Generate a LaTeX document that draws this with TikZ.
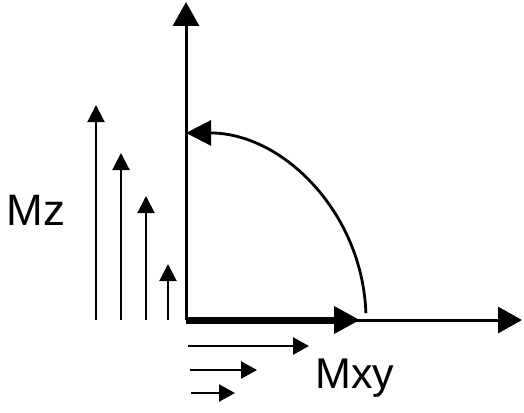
\documentclass[tikz,border=0pt]{standalone}
\usepackage{fontspec}
\newfontfamily\labelfont{Liberation Sans}
\usetikzlibrary{arrows.meta}

\begin{document}
\begin{tikzpicture}[x=1pt,y=-1pt,
    axisline/.style={line width=3pt,-{Triangle[length=24pt,width=26pt]}},
    bigvec/.style={line width=7pt,-{Triangle[length=26pt,width=26pt]}},
    flipline/.style={line width=2.8pt,-{Triangle[length=25pt,width=25pt]}},
    zvec/.style={line width=2pt,-{Triangle[length=17pt,width=17pt]}},
    xyvec/.style={line width=2.4pt,-{Triangle[length=16pt,width=17pt]}},
    label/.style={inner sep=0pt,anchor=base west,font=\labelfont\fontsize{43}{50}\selectfont}]
    \useasboundingbox (0,0) rectangle (524,412);

    % Axes
    \coordinate (O) at (186,320);
    \coordinate (ztop) at (186,2);
    \coordinate (xend) at (522,320);
    \draw[axisline] (O) -- (ztop);
    \draw[axisline] (O) -- (xend);

    % Magnetisation after the pulse
    \coordinate (mxy) at (360,320);
    \draw[bigvec] (O) -- (mxy);

    % Flip back to z
    \coordinate (arcstart) at (365.9,313.1);
    \draw[flipline] (arcstart) arc[start angle=-2.1, end angle=-90, x radius=180, y radius=187];

    % Recovering Mz
    \foreach \i/\x/\y in {1/96/105, 2/121/153, 3/146/196, 4/168/264} {
        \coordinate (zb\i) at (\x,320);
        \coordinate (zt\i) at (\x,\y);
        \draw[zvec] (zb\i) -- (zt\i);
    }

    % Decaying Mxy
    \foreach \i/\a/\b/\y in {1/188/309/346, 2/190/257/370, 3/191/235/393} {
        \coordinate (xa\i) at (\a,\y);
        \coordinate (xb\i) at (\b,\y);
        \draw[xyvec] (xa\i) -- (xb\i);
    }

    % Labels
    \node[label,font=\labelfont\fontsize{44}{50}\selectfont] (mzlabel) at (6.7,225) {Mz};
    \node[label] (mxylabel) at (315,388) {Mxy};
\end{tikzpicture}
\end{document}
